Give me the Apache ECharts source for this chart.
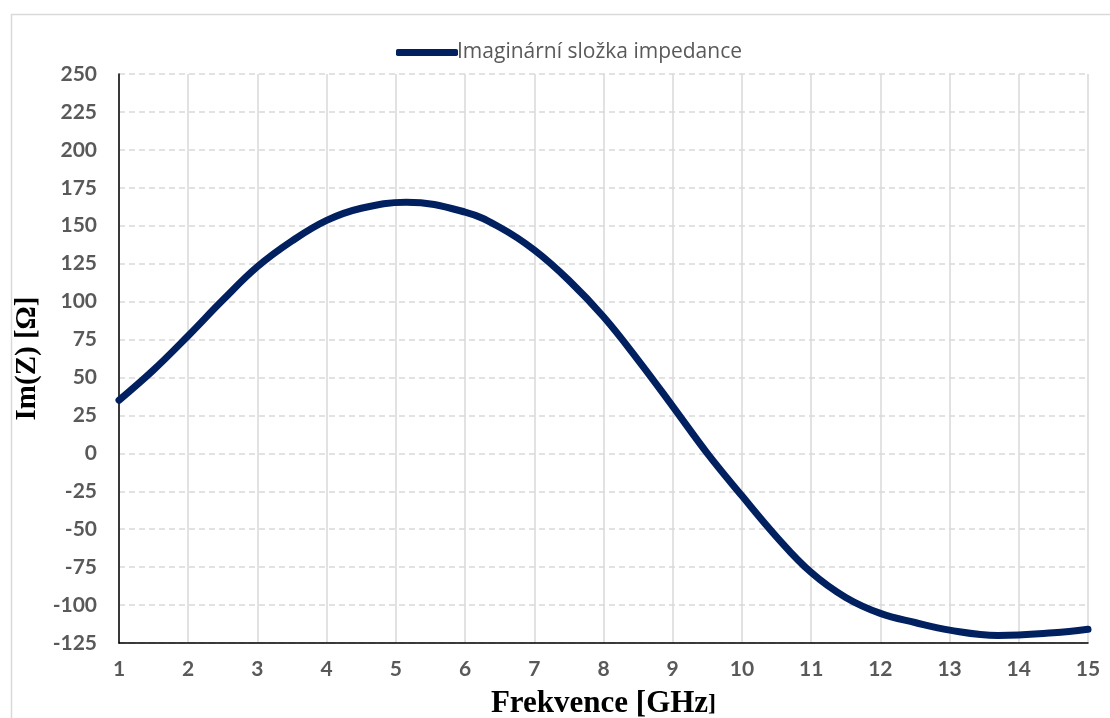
<!DOCTYPE html>
<html>
<head>
<meta charset="utf-8">
<script src="https://cdn.jsdelivr.net/npm/echarts@6/dist/echarts.min.js"></script>
<style>
  html, body { margin: 0; padding: 0; background: #fff; }
  #chart-container { width: 1110px; height: 718px; }
</style>
</head>
<body>
<div id="chart-container"></div>
<script>
var dom = document.getElementById('chart-container');
var myChart = echarts.init(dom, null, { renderer: 'canvas' });

// frekvence [GHz]
const freq = [1, 1.5, 2, 2.5, 3, 3.5, 4, 4.5, 5.15, 6, 6.5, 7, 7.5, 8, 8.5, 9, 9.5, 10, 10.5, 11, 11.5, 12, 12.5, 13, 13.7, 14.5, 15];
// Im(Z) [Ohm]
const imZ = [35, 55, 77.5, 101, 123, 140, 153.5, 161.5, 165.5, 159, 149, 134, 114, 90, 61.5, 31, 0, -28, -55, -78.5, -95, -105.5, -111.5, -116.5, -120, -118.3, -116];

const lineData = freq.map(function (f, i) { return [f, imZ[i]]; });

const labelFont = {
  color: '#595959',
  fontFamily: 'Lato',
  fontWeight: 'bold',
  fontSize: 21
};

var option = {
  backgroundColor: '#fff',
  animation: false,
  graphic: [{
    type: 'rect',
    left: 9,
    top: 12,
    shape: { width: 1200, height: 800 },
    style: { fill: 'none', stroke: '#d9d9d9', lineWidth: 1.5 },
    silent: true
  }],
  legend: {
    top: 37,
    left: 391,
    itemWidth: 62,
    itemHeight: 7,
    itemGap: 0,
    textStyle: {
      color: '#595959',
      fontFamily: 'Open Sans',
      fontSize: 21,
      padding: [0, 0, 0, -6]
    },
    data: [{ name: 'Imaginární složka impedance', icon: 'roundRect' }]
  },
  grid: {
    left: 119,
    right: 22,
    top: 74,
    bottom: 75,
    containLabel: false,
    outerBoundsMode: 'none'
  },
  xAxis: {
    type: 'value',
    min: 1,
    max: 15,
    interval: 1,
    name: '{a|Frekvence [GHz}{b|]}',
    nameLocation: 'middle',
    nameGap: 45,
    nameTextStyle: {
      rich: {
        a: { fontFamily: 'Liberation Serif', fontWeight: 'bold', fontSize: 31, color: '#000' },
        b: { fontFamily: 'Liberation Serif', fontWeight: 'bold', fontSize: 24, color: '#000' }
      }
    },
    axisLine: { onZero: false, lineStyle: { color: '#000', width: 1.5 } },
    axisTick: { show: false },
    axisLabel: Object.assign({ margin: 16 }, labelFont),
    splitLine: { show: true, lineStyle: { color: '#d9d9d9', width: 1.5, type: 'solid' } }
  },
  yAxis: {
    type: 'value',
    min: -125,
    max: 250,
    interval: 25,
    name: 'Im(Z) [Ω]',
    nameLocation: 'middle',
    nameGap: 72,
    nameTextStyle: {
      fontFamily: 'Liberation Serif',
      fontWeight: 'bold',
      fontSize: 29,
      color: '#000'
    },
    axisLine: { show: true, onZero: false, lineStyle: { color: '#000', width: 1.5 } },
    axisTick: { show: false },
    axisLabel: Object.assign({ margin: 22 }, labelFont),
    splitLine: { show: true, lineStyle: { color: '#d9d9d9', width: 1.5, type: [6, 4] } }
  },
  series: [{
    name: 'Imaginární složka impedance',
    type: 'line',
    smooth: 0.4,
    showSymbol: false,
    symbol: 'none',
    color: '#002060',
    lineStyle: { width: 7, color: '#002060', cap: 'round' },
    data: lineData
  }]
};

myChart.setOption(option);
window.addEventListener('resize', myChart.resize);
</script>
</body>
</html>
